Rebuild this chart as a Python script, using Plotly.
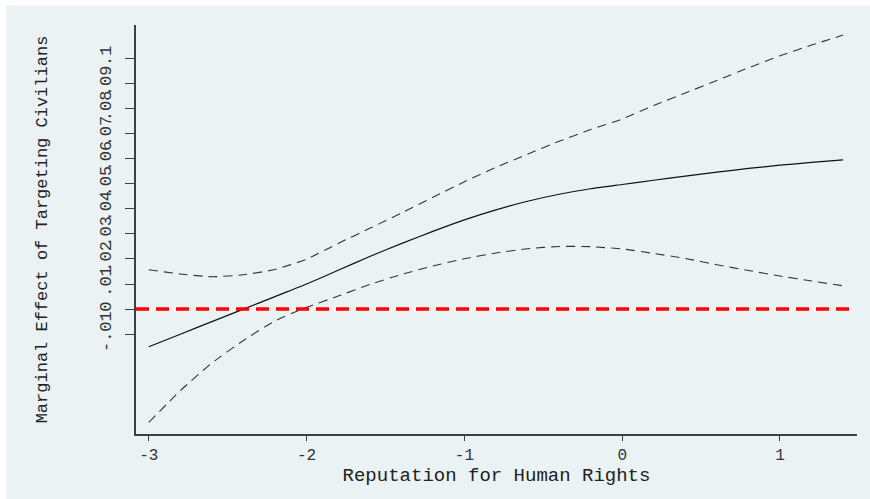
import plotly.graph_objects as go

# Reputation for human rights (x) and the estimated marginal effect with its 95% band
reputation = [-3.0, -2.8, -2.6, -2.4, -2.2, -2.0, -1.8, -1.6, -1.4, -1.2, -1.0, -0.8,
              -0.6, -0.4, -0.2, 0.0, 0.2, 0.4, 0.6, 0.8, 1.0, 1.2, 1.4]
effect = [-0.0150, -0.0100, -0.0050, 0.0000, 0.0050, 0.0100, 0.0155, 0.0210, 0.0261,
          0.0310, 0.0356, 0.0396, 0.0430, 0.0458, 0.0480, 0.0497, 0.0514, 0.0530,
          0.0546, 0.0561, 0.0574, 0.0585, 0.0595]
upper = [0.0157, 0.0140, 0.0129, 0.0137, 0.0158, 0.0199, 0.0262, 0.0322, 0.0383,
         0.0446, 0.0508, 0.0565, 0.0618, 0.0669, 0.0716, 0.0758, 0.0812, 0.0862,
         0.0912, 0.0962, 0.1010, 0.1053, 0.1093]
lower = [-0.0452, -0.0325, -0.0215, -0.0125, -0.0047, 0.0007, 0.0052, 0.0098, 0.0138,
         0.0172, 0.0201, 0.0224, 0.0241, 0.0250, 0.0249, 0.0240, 0.0222, 0.0202,
         0.0177, 0.0154, 0.0132, 0.0112, 0.0093]

x_ticks = [-3, -2, -1, 0, 1]
x_tick_text = ["-3", "-2", "-1", "0", "1"]
y_ticks = [-0.01, 0.0, 0.01, 0.02, 0.03, 0.04, 0.05, 0.06, 0.07, 0.08, 0.09, 0.1]
y_tick_text = ["-.01", "0", ".01", ".02", ".03", ".04", ".05", ".06", ".07", ".08", ".09", ".1"]
reference_level = 0.0

MONO = "Liberation Mono, Courier New, monospace"
BG = "#EAF2F3"

fig = go.Figure()

band_line = dict(color="#333333", width=1.1, dash="9px,6px", shape="spline", smoothing=0.5)
fig.add_trace(go.Scatter(x=reputation, y=upper, mode="lines", line=band_line,
                         showlegend=False, hoverinfo="skip"))
fig.add_trace(go.Scatter(x=reputation, y=lower, mode="lines", line=band_line,
                         showlegend=False, hoverinfo="skip"))
fig.add_trace(go.Scatter(
    x=reputation, y=effect, mode="lines",
    line=dict(color="#111111", width=1.2, shape="spline", smoothing=0.5),
    showlegend=False))

# graph region background, inset from the top and left page edges
fig.add_shape(type="rect", xref="paper", yref="paper",
              x0=-0.18, x1=1.02, y0=-0.17, y1=1.047,
              fillcolor=BG, line=dict(width=0), layer="below")

# zero reference line
fig.add_shape(type="line", xref="paper", yref="y",
              x0=0.0, x1=0.993, y0=reference_level, y1=reference_level,
              line=dict(color="#ff0000", width=3.5, dash="13px,7px"), layer="above")

fig.update_layout(
    width=870, height=499,
    margin=dict(l=136, r=13, t=25, b=65),
    paper_bgcolor="white",
    plot_bgcolor="white",
    font=dict(family=MONO, color="#222222", size=16),
    xaxis=dict(
        range=[-3.081, 1.488],
        tickvals=x_ticks, ticktext=x_tick_text,
        ticks="outside", ticklen=5, tickwidth=1.2, tickcolor="#404040",
        showline=True, linecolor="#404040", linewidth=1.5,
        showgrid=False, zeroline=False,
        tickfont=dict(family=MONO, size=16, color="#333333"),
        title=dict(text="Reputation for Human Rights",
                   font=dict(family=MONO, size=19, color="#222222"), standoff=0),
    ),
    yaxis=dict(
        range=[-0.0498, 0.1133],
        tickvals=y_ticks, ticktext=y_tick_text,
        tickangle=-90,
        ticks="outside", ticklen=9, tickwidth=1.2, tickcolor="#404040",
        showline=True, linecolor="#404040", linewidth=1.5,
        showgrid=True, gridcolor=BG, gridwidth=1,
        zeroline=False,
        ticklabelstandoff=7,
        tickfont=dict(family=MONO, size=17, color="#333333"),
        title=dict(text="Marginal Effect of Targeting Civilians",
                   font=dict(family=MONO, size=17, color="#222222"), standoff=46),
    ),
)

fig.write_html("out.html")
